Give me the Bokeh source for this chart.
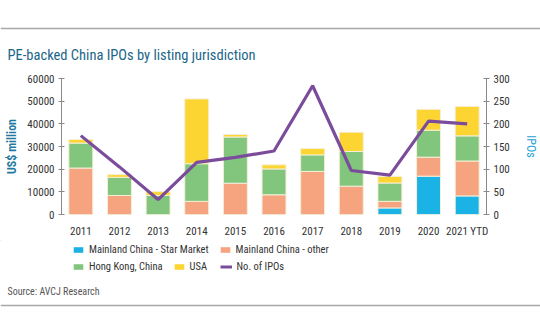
from bokeh.plotting import figure
from bokeh.models import (ColumnDataSource, Range1d, LinearAxis, Legend, LegendItem,
                          Label, Span, FactorRange)
from bokeh.layouts import column
from bokeh.embed import file_html
from bokeh.resources import INLINE

years = ["2011", "2012", "2013", "2014", "2015", "2016", "2017", "2018", "2019", "2020", "2021 YTD"]
star_market = [0, 0, 0, 0, 0, 0, 0, 0, 2900, 16900, 8200]
mainland_other = [20500, 8400, 0, 5800, 13800, 8700, 19000, 12500, 2900, 8400, 15400]
hong_kong = [11000, 8000, 8400, 16600, 20400, 11400, 7300, 15300, 8100, 11900, 11100]
usa = [1600, 1200, 1700, 28600, 1100, 1800, 2800, 8500, 2900, 9200, 13000]
ipos = [174, 105, 33, 115, 126, 140, 284, 97, 87, 206, 200]

series_names = ["Mainland China - Star Market", "Mainland China - other", "Hong Kong, China", "USA"]
line_name = "No. of IPOs"
title_text = "PE-backed China IPOs by listing jurisdiction"
source_text = "Source: AVCJ Research"
keys = ["star", "other", "hk", "usa"]
colors = ["#1bb3e6", "#f5a47f", "#82c57d", "#fdd533"]
LINE_COLOR = "#7b4c9c"

FONT = "Roboto Condensed, Roboto"
W = 540


def blank(height):
    f = figure(width=W, height=height, x_range=Range1d(0, W), y_range=Range1d(height, 0),
               output_backend="svg", toolbar_location=None,
               x_axis_location=None, y_axis_location=None,
               min_border=0, min_border_left=0, min_border_right=0,
               min_border_top=0, min_border_bottom=0)
    f.grid.visible = False
    f.outline_line_color = None
    try:
        f.frame_align = False
    except Exception:
        pass
    return f


# ---------- header ----------
hdr = blank(70)
hdr.add_layout(Span(location=28, dimension="width", line_color="#a8a8a8", line_width=1.5))
hdr.add_layout(Label(x=7, y=55, text=title_text, text_font=FONT, text_font_size="14.5px",
                     text_color="#1a6688", text_baseline="alphabetic"))

# ---------- main chart ----------
src = ColumnDataSource(dict(year=years, star=star_market, other=mainland_other,
                            hk=hong_kong, usa=usa, ipos=ipos))

p = figure(width=W, height=170, x_range=FactorRange(*years, range_padding=0),
           y_range=Range1d(0, 60000), output_backend="svg", toolbar_location=None,
           min_border_left=61, min_border_right=52, min_border_top=8, min_border_bottom=24)
try:
    p.frame_align = False
except Exception:
    pass
p.x_range.factor_padding = 0
p.outline_line_color = None
p.xgrid.visible = False
p.ygrid.visible = False

bars = p.vbar_stack(keys, x="year", width=0.62, source=src, color=colors,
                    line_color="#f4efd8", line_width=1)
p.extra_y_ranges = {"ipo": Range1d(0, 300)}
ln = p.line("year", "ipos", source=src, y_range_name="ipo", color=LINE_COLOR, line_width=3.2)

p.yaxis[0].ticker = [0, 10000, 20000, 30000, 40000, 50000, 60000]
p.yaxis[0].formatter.use_scientific = False
ax_r = LinearAxis(y_range_name="ipo", ticker=[0, 50, 100, 150, 200, 250, 300])
p.add_layout(ax_r, "right")

for ax in [p.yaxis[0], ax_r]:
    ax.axis_line_color = "#8a8a8a"
    ax.major_tick_line_color = "#8a8a8a"
    ax.major_tick_in = 3
    ax.major_tick_out = 3
    ax.minor_tick_line_color = None
    ax.major_label_text_font = FONT
    ax.major_label_text_font_size = "11px"
    ax.major_label_text_color = "#333333"
    ax.major_label_standoff = 4
    ax.axis_label_text_font = FONT
    ax.axis_label_text_font_size = "12px"

p.yaxis[0].axis_label = "US$ million"
p.yaxis[0].axis_label_text_color = "#1f7aa0"
p.yaxis[0].axis_label_text_font_style = "bold"
p.yaxis[0].axis_label_standoff = 5
ax_r.axis_label = "IPOs"
ax_r.axis_label_text_color = "#1ea3d6"
ax_r.axis_label_text_font_style = "normal"
ax_r.axis_label_standoff = 11

xa = p.xaxis[0]
xa.axis_line_color = None
xa.major_tick_line_color = None
xa.minor_tick_line_color = None
xa.major_label_text_font = FONT
xa.major_label_text_font_size = "11px"
xa.major_label_text_color = "#333333"
xa.major_label_standoff = 4

# ---------- footer with legend + source ----------
FH = 80
ftr = blank(FH)
# legend proxies, placed off the visible range
lr = [ftr.vbar(x=[-1000], top=[-1000], bottom=[-1001], width=1, color=c, line_color=None)
      for c in colors]
ll = ftr.line(x=[-1000, -999], y=[-1000, -1000], color=LINE_COLOR, line_width=3)

leg1 = Legend(items=[LegendItem(label=series_names[0], renderers=[lr[0]]),
                     LegendItem(label=series_names[1], renderers=[lr[1]])],
              orientation="horizontal", location=(72, FH - 16))
leg2 = Legend(items=[LegendItem(label=series_names[2], renderers=[lr[2]]),
                     LegendItem(label=series_names[3], renderers=[lr[3]]),
                     LegendItem(label=line_name, renderers=[ll])],
              orientation="horizontal", location=(72, FH - 33))
for lg in [leg1, leg2]:
    lg.label_text_font = FONT
    lg.label_text_font_size = "10.5px"
    lg.label_text_color = "#333333"
    lg.glyph_width = 12
    lg.glyph_height = 7
    lg.spacing = 10
    lg.padding = 0
    lg.margin = 0
    lg.label_standoff = 5
    lg.border_line_color = None
    lg.background_fill_alpha = 0
    lg.label_height = 14
    ftr.add_layout(lg, "center")

ftr.add_layout(Label(x=7, y=51, text=source_text, text_font=FONT, text_font_size="10px",
                     text_color="#555555", text_baseline="alphabetic"))
ftr.add_layout(Span(location=65, dimension="width", line_color="#a8a8a8", line_width=1.5))

layout = column(hdr, p, ftr, spacing=0)
open("out.html", "w").write(file_html(layout, INLINE))
